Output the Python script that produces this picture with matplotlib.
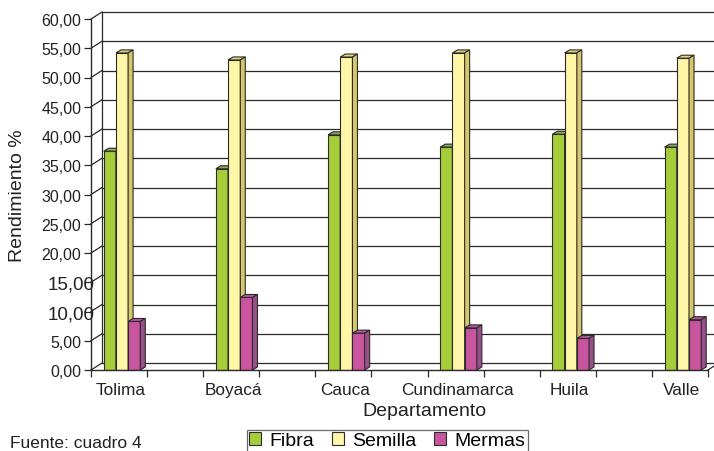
import matplotlib
matplotlib.use("Agg")
import matplotlib.pyplot as plt
from matplotlib.patches import Polygon, Patch
from matplotlib.transforms import ScaledTranslation

plt.rcParams["font.family"] = ["Liberation Sans", "DejaVu Sans"]

# data
departamentos = ["Tolima", "Boyacá", "Cauca", "Cundinamarca", "Huila", "Valle"]
fibra = [37.4, 34.4, 40.2, 38.1, 40.3, 38.1]
semilla = [54.2, 53.0, 53.5, 54.2, 54.2, 53.3]
mermas = [8.3, 12.4, 6.3, 7.2, 5.4, 8.6]
series_names = ["Fibra", "Semilla", "Mermas"]
y_ticks = [0, 5, 10, 15, 20, 25, 30, 35, 40, 45, 50, 55, 60]

W, H = 714, 452
fig = plt.figure(figsize=(W / 100, H / 100), dpi=100)
# front plane of the pseudo-3D box, in pixels
left_px, right_px, bot_px, top_px = 91, 708, 371, 20
ax = fig.add_axes([left_px / W, 1 - bot_px / H, (right_px - left_px) / W, (bot_px - top_px) / H])

cat_px0, cat_step = 122, 112.2
x0 = (left_px - cat_px0) / cat_step
x1 = (right_px - cat_px0) / cat_step
ax.set_xlim(x0, x1)
ax.set_ylim(0, 60)

px_x = cat_step                  # pixels per x unit
px_y = (bot_px - top_px) / 60.0  # pixels per y unit

# back wall, floor and connectors
bx, by = 11 / px_x, 7 / px_y
line_kw = dict(color="#2a2a2a", lw=0.9, clip_on=False, zorder=1)
for v in y_ticks[1:]:
    ax.plot([x0 + bx, x1 + bx], [v + by, v + by], **line_kw)
ax.plot([x0 + bx, x0 + bx], [by, 60 + by], **line_kw)
ax.plot([x0 + bx, x1 + bx], [by, by], **line_kw)
ax.plot([x1, x1 + bx], [0, by], **line_kw)
for v in y_ticks:
    ax.plot([x0, x0 + bx], [v, v + by], **line_kw)

# 3D-looking bars
w = 12.2 / px_x
dx, dy = 5 / px_x, 3 / px_y
front_cols = ["#a5cd39", "#fff6a8", "#c8559e"]
top_cols = ["#8ea85a", "#e3d67a", "#b0589a"]
side_cols = ["#7d9a35", "#d7c76a", "#9a4f8c"]
ec = "#2b2b2b"
for s, vals in enumerate([fibra, semilla, mermas]):
    offs = (s - 1) * w
    xs = [i + offs - w / 2 for i in range(len(vals))]
    z = 3 + s
    ax.bar([x + w / 2 for x in xs], vals, width=w, color=front_cols[s],
           edgecolor=ec, linewidth=0.8, zorder=z)
    for xl, h in zip(xs, vals):
        top = [(xl, h), (xl + w, h), (xl + w + dx, h + dy), (xl + dx, h + dy)]
        side = [(xl + w, 0), (xl + w + dx, dy), (xl + w + dx, h + dy), (xl + w, h)]
        ax.add_patch(Polygon(top, closed=True, facecolor=top_cols[s], edgecolor=ec,
                             lw=0.8, zorder=z, clip_on=False))
        ax.add_patch(Polygon(side, closed=True, facecolor=side_cols[s], edgecolor=ec,
                             lw=0.8, zorder=z, clip_on=False))

for sp in ["top", "right"]:
    ax.spines[sp].set_visible(False)
for sp in ["left", "bottom"]:
    ax.spines[sp].set_color("#2a2a2a")
    ax.spines[sp].set_linewidth(1.0)
    ax.spines[sp].set_zorder(10)

ax.set_yticks(y_ticks)
ax.set_yticklabels([f"{v:.2f}".replace(".", ",") for v in y_ticks], fontsize=11.5, color="#222222")
ax.tick_params(axis="y", length=5, width=0.9, pad=2, color="#2a2a2a")
# the odd 10,00 / 15,00 labels sitting over the axis line
for lab in ax.get_yticklabels():
    if lab.get_text() in ("10,00", "15,00"):
        lab.set_fontsize(13.5)
        lab.set_transform(lab.get_transform() + ScaledTranslation(13 / 100, 0, fig.dpi_scale_trans))

ax.set_xticks([x0 + 0.5 * k for k in range(12)])
ax.set_xticklabels([])
ax.tick_params(axis="x", length=5, width=0.9, color="#2a2a2a")
for i, d in enumerate(departamentos):
    ax.text(i - 0.01, -3.4, d, ha="center", va="center", fontsize=12.4, color="#222222")

fig.text(424 / W, 1 - 412 / H, "Departamento", ha="center", va="center", fontsize=14, color="#222222")
fig.text(18 / W, 1 - 196 / H, "Rendimiento %", ha="center", va="center", rotation=90,
         fontsize=14, color="#222222")
fig.text(10 / W, 1 - 436 / H, "Fuente: cuadro 4", ha="left", va="top", fontsize=12.5, color="#222222")

handles = [Patch(facecolor=front_cols[i], edgecolor=ec, lw=0.8) for i in range(3)]
leg = fig.legend(handles, series_names, loc="upper left", bbox_to_anchor=(247 / W, 1 - 431 / H),
                 ncol=3, fontsize=14, frameon=True, fancybox=False, edgecolor="#444444",
                 handlelength=0.6, handleheight=0.6, handletextpad=0.45, columnspacing=0.9,
                 borderpad=0.12, borderaxespad=0)
leg.get_frame().set_linewidth(0.9)

fig.savefig("out.png", dpi=100)
